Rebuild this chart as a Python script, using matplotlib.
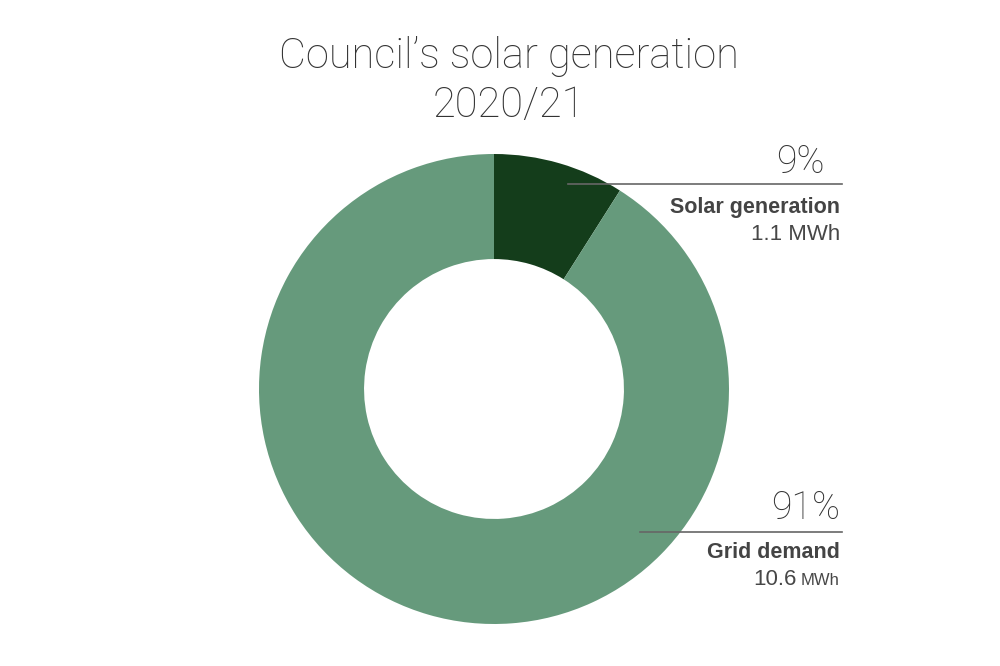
import matplotlib
matplotlib.use('Agg')
import matplotlib.pyplot as plt
from matplotlib import font_manager

labels = ['Solar generation', 'Grid demand']
shares = [9, 91]
energy = ['1.1', '10.6']
colors = ['#143d1b', '#669a7c']

names = {f.name for f in font_manager.fontManager.ttflist}
light = 'Roboto' if 'Roboto' in names else 'DejaVu Sans'
txt = '#474747'
thin = '#333333'  # light weight text needs a darker tone to read the same

fig = plt.figure(figsize=(10, 6.66), dpi=100)
cx, cy, r = 494, 389, 235
ax = fig.add_axes([(cx - r) / 1000, (666 - cy - r) / 666, 2 * r / 1000, 2 * r / 666])

ax.pie(shares, colors=colors, startangle=90, counterclock=False,
       radius=1, wedgeprops=dict(width=0.447, linewidth=0))
ax.set_xlim(-1, 1)
ax.set_ylim(-1, 1)
ax.set_aspect('equal')
ax.axis('off')

fig.text(0.509, 0.898, "Council\u2019s solar generation", ha='center', va='baseline',
         fontsize=30, color=thin, family=light, weight='light')
fig.text(0.509, 0.824, "2020/21", ha='center', va='baseline',
         fontsize=30, color=thin, family=light, weight='light')

# label positions in pie data units (radius 1)
line_y = [0.872, -0.609]
line_x0 = [0.315, 0.621]
pct_x = [1.409, 1.472]
pct_y = [0.919, -0.553]
name_y = [0.749, -0.719]
val_y = [0.634, -0.834]
xr = 1.472
xl = 1.481

fig.canvas.draw()
for i in range(2):
    ax.plot([line_x0[i], xl], [line_y[i], line_y[i]], color='#666666', lw=1.2,
            clip_on=False)
    ax.text(pct_x[i], pct_y[i], f"{shares[i]}%", ha='right', va='baseline', fontsize=27,
            color=thin, family=light, weight='light', clip_on=False)
    ax.text(xr, name_y[i], labels[i], ha='right', va='baseline', fontsize=15.5,
            color='#444444', family='Liberation Sans', weight='bold', clip_on=False)
    if i == 0:
        ax.text(xr, val_y[i], f"{energy[i]} MWh", ha='right', va='baseline', fontsize=16,
                color=txt, family='Liberation Sans', clip_on=False)
    else:
        unit = ax.text(xr, val_y[i], "MWh", ha='right', va='baseline', fontsize=12,
                       color=txt, family='Liberation Sans', clip_on=False)
        bb = unit.get_window_extent(fig.canvas.get_renderer())
        w = bb.width / (ax.get_window_extent().width / 2)
        ax.text(xr - w - 0.02, val_y[i], energy[i], ha='right', va='baseline', fontsize=16,
                color=txt, family='Liberation Sans', clip_on=False)

fig.savefig('out.png', dpi=100, facecolor='white')
